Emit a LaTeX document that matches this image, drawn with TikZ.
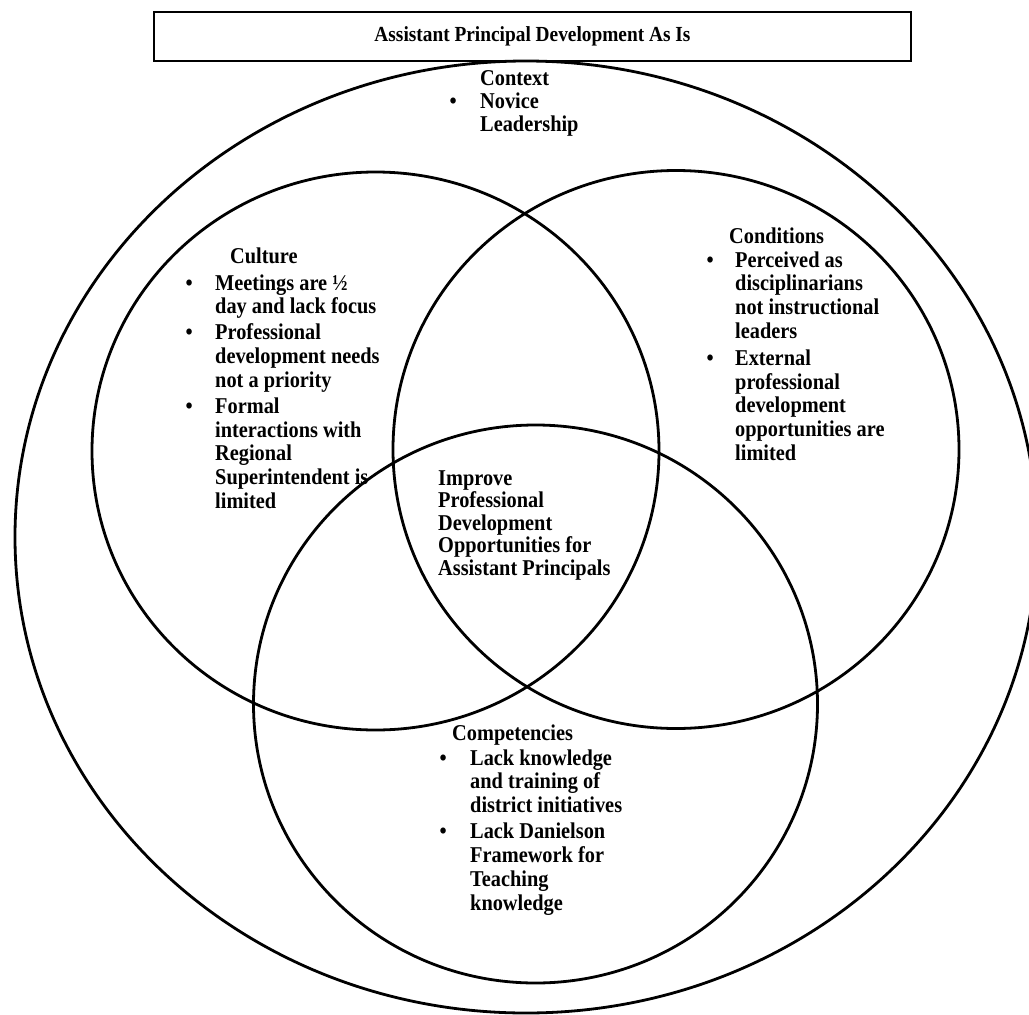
\documentclass[tikz,border=0pt]{standalone}
\usepackage{fontspec}
\setmainfont{Liberation Serif}[FakeStretch=0.9]
\usepackage{array}
\newcommand\bul[1]{\makebox[#1pt][l]{\textbullet}}
\begin{document}
\begin{tikzpicture}[x=1pt,y=-1pt,
  ring/.style={line width=2.8pt, draw=black},
  txt/.style={anchor=base west, inner sep=0pt, align=left,
    font=\bfseries\fontsize{22.6}{23.7}\selectfont},
  titlebox/.style={draw=black, line width=1.8pt, minimum width=757pt,
    minimum height=49pt, inner sep=0pt, font=\bfseries\fontsize{21.5}{23}\selectfont}
]
\useasboundingbox (0,0) rectangle (1029,1015);

% title
\node[titlebox] (title) at (532.5,36.5) {Assistant Principal Development As Is};

% circles
\draw[ring] (526,537) ellipse [x radius=511, y radius=476];
\draw[ring] (375.5,451) ellipse [x radius=283.5, y radius=279];
\draw[ring] (676,449.5) ellipse [x radius=283, y radius=279];
\draw[ring] (535.5,704) ellipse [x radius=282, y radius=279];

% Context
\node[txt] (ctxh) at (480,85) {Context};
\node[txt] (ctxb) at (449.5,108) {\begin{tabular}[t]{@{}l@{}l@{}}
\bul{30.5} & Novice\\
 & Leadership
\end{tabular}};

% Culture
\node[txt] (culh) at (230,263) {Culture};
\node[txt] (culb) at (185.5,290) {\begin{tabular}[t]{@{}l@{}l@{}}
\bul{29.5} & Meetings are ½\\
 & day and lack focus\\[2.4pt]
\bul{29.5} & Professional\\
 & development needs\\
 & not a priority\\[2.4pt]
\bul{29.5} & Formal\\
 & interactions with\\
 & Regional\\
 & Superintendent is\\
 & limited
\end{tabular}};

% Conditions
\node[txt] (conh) at (729,243) {Conditions};
\node[txt] (conb) at (706.5,267) {\begin{tabular}[t]{@{}l@{}l@{}}
\bul{28.5} & Perceived as\\
 & disciplinarians\\
 & not instructional\\
 & leaders\\[3.5pt]
\bul{28.5} & External\\
 & professional\\
 & development\\
 & opportunities are\\
 & limited
\end{tabular}};

% Center
\node[txt, font=\bfseries\fontsize{22.6}{22.6}\selectfont] (core) at (438,485) {\begin{tabular}[t]{@{}l@{}}
Improve\\
Professional\\
Development\\
Opportunities for\\
Assistant Principals
\end{tabular}};

% Competencies
\node[txt] (comh) at (452,740) {Competencies};
\node[txt] (comb) at (439.5,765) {\begin{tabular}[t]{@{}l@{}l@{}}
\bul{30.5} & Lack knowledge\\
 & and training of\\
 & district initiatives\\[2.8pt]
\bul{30.5} & Lack Danielson\\
 & Framework for\\
 & Teaching\\
 & knowledge
\end{tabular}};
\end{tikzpicture}
\end{document}
